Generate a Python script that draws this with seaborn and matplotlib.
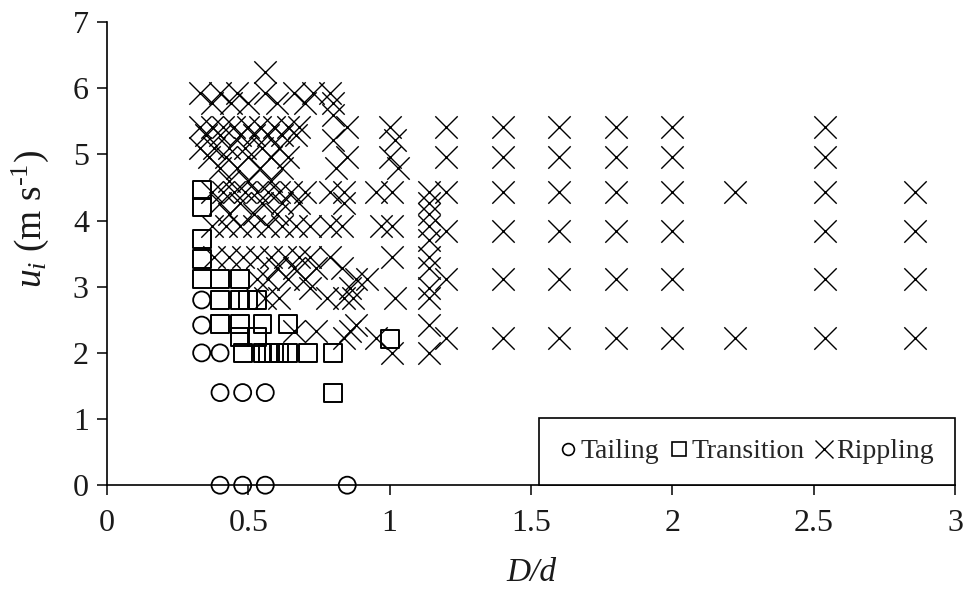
"""Flow regime map: tailing / transition / rippling against D/d and u_i."""

import matplotlib.pyplot as plt
import pandas as pd
import seaborn as sns
from matplotlib.lines import Line2D

# Tailing regime (open circles)
tailing_x = [0.335, 0.335, 0.335, 0.40, 0.40, 0.48, 0.56, 0.40, 0.48, 0.56, 0.85]
tailing_y = [2.80, 2.42, 2.00, 2.00, 1.40, 1.40, 1.40, 0.00, 0.00, 0.00, 0.00]

# Transition regime (open squares)
transition_x = [0.335, 0.335, 0.335, 0.335, 0.335, 0.40, 0.47,
                0.40, 0.47, 0.50, 0.53,
                0.40, 0.47, 0.55, 0.64,
                0.47, 0.53, 1.00,
                0.48, 0.55, 0.57, 0.59, 0.61, 0.64, 0.71, 0.80,
                0.80]
transition_y = [4.46, 4.20, 3.72, 3.42, 3.12, 3.12, 3.12,
                2.80, 2.80, 2.80, 2.80,
                2.44, 2.44, 2.44, 2.44,
                2.24, 2.24, 2.21,
                2.00, 2.00, 2.00, 2.00, 2.00, 2.00, 2.00, 2.00,
                1.40]

# Rippling regime (crosses), one list of D/d values per velocity row
rippling_rows = {
    6.25: [0.56],
    5.93: [0.33, 0.40, 0.46, 0.56, 0.66, 0.73, 0.79],
    5.78: [0.37, 0.44, 0.50, 0.60, 0.70, 0.80],
    5.60: [0.80],
    5.42: [0.33, 0.37, 0.41, 0.45, 0.50, 0.54, 0.59, 0.64, 0.68, 0.85, 1.0,
           1.2, 1.4, 1.6, 1.8, 2.0, 2.54],
    5.30: [0.35, 0.40, 0.47, 0.52, 0.57, 0.62, 0.67],
    5.22: [0.80, 1.02],
    5.10: [0.33, 0.38, 0.43, 0.49, 0.55, 0.61],
    4.96: [0.36, 0.42, 0.50, 0.58, 0.64, 0.85, 1.0, 1.2, 1.4, 1.6, 1.8, 2.0, 2.54],
    4.80: [0.40, 0.46, 0.54, 0.62, 0.81, 1.03],
    4.60: [0.43, 0.50, 0.58],
    4.43: [0.37, 0.41, 0.45, 0.49, 0.53, 0.57, 0.61, 0.65, 0.70, 0.79, 0.84,
           0.95, 1.01, 1.14, 1.2, 1.4, 1.6, 1.8, 2.0, 2.22, 2.54, 2.86],
    4.27: [0.40, 0.47, 0.55, 0.62, 0.68, 0.84, 1.14],
    4.10: [0.43, 0.52, 0.60, 1.14],
    3.92: [0.37, 0.42, 0.47, 0.52, 0.57, 0.62, 0.67, 0.72, 0.79, 0.83, 0.97,
           1.01, 1.14],
    3.84: [1.2, 1.4, 1.6, 1.8, 2.0, 2.54, 2.86],
    3.70: [1.14],
    3.45: [0.38, 0.43, 0.48, 0.53, 0.58, 0.63, 0.68, 0.72, 0.79, 1.01, 1.14],
    3.28: [0.60, 0.66, 0.74, 0.83, 1.14],
    3.12: [0.53, 0.57, 0.64, 0.70, 0.88, 0.92, 1.2, 1.4, 1.6, 1.8, 2.0, 2.54, 2.86],
    2.98: [0.72, 0.86, 1.14],
    2.83: [0.56, 0.61, 0.78, 0.84, 0.87, 1.02, 1.14],
    2.42: [0.88, 1.14],
    2.33: [0.66, 0.74, 0.86],
    2.22: [0.84, 0.95, 1.2, 1.4, 1.6, 1.8, 2.0, 2.22, 2.54, 2.86],
    2.00: [1.01, 1.14],
}

regime_labels = ["Tailing", "Transition", "Rippling"]
x_ticks = [0, 0.5, 1, 1.5, 2, 2.5, 3]
x_tick_labels = ["0", "0.5", "1", "1.5", "2", "2.5", "3"]
y_ticks = [0, 1, 2, 3, 4, 5, 6, 7]

rippling_x = [x for y, xs in rippling_rows.items() for x in xs]
rippling_y = [y for y, xs in rippling_rows.items() for x in xs]

df = pd.concat([
    pd.DataFrame({"dd": tailing_x, "u": tailing_y, "regime": "Tailing"}),
    pd.DataFrame({"dd": transition_x, "u": transition_y, "regime": "Transition"}),
    pd.DataFrame({"dd": rippling_x, "u": rippling_y, "regime": "Rippling"}),
])

sns.set_style("ticks")
plt.rcParams["font.family"] = ["Liberation Serif", "DejaVu Serif"]
plt.rcParams["mathtext.fontset"] = "custom"
plt.rcParams["mathtext.rm"] = "Liberation Serif"
plt.rcParams["mathtext.it"] = "Liberation Serif:italic"

styles = {
    "Tailing": dict(marker="o", s=150, facecolor="none", edgecolor="black", linewidth=1.3),
    "Transition": dict(marker="s", s=165, facecolor="none", edgecolor="black", linewidth=1.4),
    "Rippling": dict(marker="x", s=260, color="black", linewidth=1.0),
}

fig, ax = plt.subplots(figsize=(9.68, 5.99), dpi=100)
fig.subplots_adjust(left=0.1105, right=0.9866, bottom=0.19, top=0.963)

for regime in regime_labels:
    part = df[df["regime"] == regime]
    sns.scatterplot(data=part, x="dd", y="u", ax=ax, legend=False, zorder=3,
                    clip_on=False, **styles[regime])

ax.set_xlim(0, 3)
ax.set_ylim(0, 7)
ax.set_xticks(x_ticks)
ax.set_xticklabels(x_tick_labels)
ax.set_yticks(y_ticks)
ax.tick_params(direction="out", length=7, width=1.1, labelsize=23, color="black",
               labelcolor="#1a1a1a")
ax.tick_params(axis="x", pad=10)
ax.tick_params(axis="y", pad=6)
for side in ["left", "bottom"]:
    ax.spines[side].set_linewidth(1.2)
    ax.spines[side].set_color("black")
sns.despine(ax=ax)

ax.set_xlabel("D/d", fontsize=24, fontstyle="italic", labelpad=14, color="#1a1a1a")
ax.set_ylabel(r"$u_i$ (m s$^{\text{-1}}$)", fontsize=27, color="#1a1a1a")
ax.yaxis.set_label_coords(-0.066, 0.575)

handles = [
    Line2D([], [], ls="none", marker="o", ms=8.5, mfc="none", mec="black", mew=1.2),
    Line2D([], [], ls="none", marker="s", ms=9.5, mfc="none", mec="black", mew=1.2),
    Line2D([], [], ls="none", marker="x", ms=13, color="black", mew=1.0),
]
leg = ax.legend(handles, regime_labels, loc="lower right", bbox_to_anchor=(1, 0),
                ncol=3, fontsize=20, frameon=True, fancybox=False, borderaxespad=0,
                borderpad=0.75, handlelength=0.6, handletextpad=0.15,
                columnspacing=0.4)
leg.get_frame().set_edgecolor("black")
leg.get_frame().set_linewidth(1.2)
leg.get_frame().set_alpha(1)
leg.set_zorder(5)

fig.savefig("out.png", dpi=100)
